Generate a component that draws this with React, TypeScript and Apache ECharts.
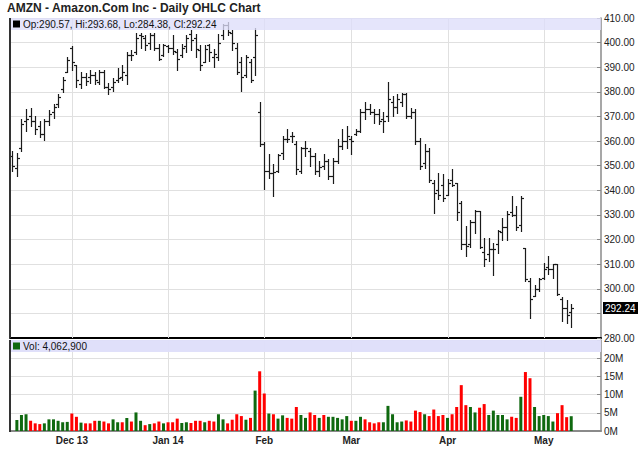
import React, { useEffect, useRef } from 'react';
import * as echarts from 'echarts';

// ---------- DATA ----------
const tradingDays: [string, number[]][] = [
  ['2013-11', [12, 13, 14, 15, 18, 19, 20, 21, 22, 25, 26, 27, 29]],
  ['2013-12', [2, 3, 4, 5, 6, 9, 10, 11, 12, 13, 16, 17, 18, 19, 20, 23, 24, 26, 27, 30, 31]],
  ['2014-01', [2, 3, 6, 7, 8, 9, 10, 13, 14, 15, 16, 17, 21, 22, 23, 24, 27, 28, 29, 30, 31]],
  ['2014-02', [3, 4, 5, 6, 7, 10, 11, 12, 13, 14, 18, 19, 20, 21, 24, 25, 26, 27, 28]],
  ['2014-03', [3, 4, 5, 6, 7, 10, 11, 12, 13, 14, 17, 18, 19, 20, 21, 24, 25, 26, 27, 28, 31]],
  ['2014-04', [1, 2, 3, 4, 7, 8, 9, 10, 11, 14, 15, 16, 17, 21, 22, 23, 24, 25, 28, 29, 30]],
  ['2014-05', [1, 2, 5, 6, 7, 8, 9]],
];
const monthLabels = ['', 'Dec 13', 'Jan 14', 'Feb', 'Mar', 'Apr', 'May'];

const opens = [
  354, 349, 357, 368, 370, 368, 366, 363, 368, 372, 375, 381, 388,
  398, 391, 383, 386, 386, 387, 384, 388, 382, 382, 385, 386, 387, 395, 396, 403, 402, 400, 403, 398, 395,
  398.5, 398, 396, 395, 398.5, 403.5, 402, 397, 392, 399, 394, 394, 403, 407, 404, 398, 392, 387, 392, 394, 372,
  359, 348, 347, 348, 355, 361, 362, 359, 348, 357, 356, 354, 348, 350, 352, 346, 352, 358, 360,
  361, 363, 364, 372, 373, 372, 371, 369, 370, 376, 374, 376, 379, 370, 372, 360, 351, 356, 343, 340, 342,
  338, 344, 343, 335, 318, 318, 327, 331.5, 315, 314, 316, 318, 323, 325, 331, 330, 326, 316.5, 303, 297, 300,
  304.5, 309, 308, 310, 296, 292, 290.57,
];
const highs = [
  356, 355, 369, 373, 373.5, 370, 368, 369, 372.5, 375, 379, 386, 394,
  398.5, 391, 388, 387.5, 389, 388, 389, 389, 383.5, 385.5, 389.5, 391, 396, 397, 404, 404, 403, 404, 404, 399.5, 399.5,
  399, 403, 397.5, 399.5, 403, 405, 403.6, 399, 399, 399.5, 397.5, 403.5, 407.7, 408.5, 405, 400, 394, 394.8, 393.5, 406, 376,
  359.5, 354.7, 350.7, 354.7, 362.2, 364.9, 363.6, 360, 357.5, 360, 357, 355, 352, 354.6, 352.6, 353, 360.7, 364.8, 366,
  362, 365, 373, 375.7, 375, 373, 373, 372, 383.8, 378.4, 379, 379.4, 379.5, 373.6, 373, 361.4, 358.7, 357, 344, 347, 346.5,
  344.5, 348.5, 343, 335.6, 325.4, 328, 332.2, 331.5, 320.7, 320.7, 318.6, 324, 328.8, 331.5, 337.6, 333.5, 337.6, 316.7, 304.4, 301.6, 304.4,
  310.5, 313.2, 310, 310, 296.5, 295.5, 293.68,
];
const lows = [
  348, 346, 356, 364, 366, 363, 361.5, 360.5, 366.5, 369.5, 374, 380, 388,
  389, 382, 381.5, 382.8, 383.5, 383, 383, 381.5, 379, 380.5, 384, 385, 383, 393, 395.5, 398, 397, 397.5, 397, 393, 394.5,
  396, 395.5, 388.7, 394, 396, 397, 394, 389, 392, 392.7, 390, 393, 401.5, 403, 397, 387.3, 380.5, 386, 384, 387, 358,
  340.5, 345, 337.8, 347.3, 352.7, 359.5, 359.5, 346.5, 347, 354, 350, 346.5, 346, 348.5, 344.4, 343, 351, 356.6, 357,
  354.6, 362.5, 363.5, 369, 371, 367.5, 367, 363.5, 368, 370, 371.6, 374.3, 369.5, 369.5, 358.7, 348.5, 349.2, 343.5, 330.8, 336.3, 335.6,
  338, 341.7, 328, 316, 313.2, 317, 322.7, 316.6, 309.1, 311.2, 305.7, 314.6, 320, 320, 329.5, 324, 323.4, 303, 288, 296.9, 299,
  304, 306, 304.5, 297.6, 287, 286, 284.38,
];
const closes = [
  350, 353, 367, 369, 368, 365, 363, 368, 371, 374, 378, 385, 393,
  392, 385, 386, 384.5, 387, 385, 388, 382, 381, 384, 385.5, 388, 395, 395, 402, 402.5, 399, 403, 398, 393.5, 399,
  398, 396.5, 393.5, 398, 402, 401, 397.5, 391, 397.5, 396, 395.5, 400, 407, 404.5, 400, 388, 386, 394, 385, 403, 359,
  348, 347, 347.5, 354.5, 361, 361, 362, 348.5, 357, 357, 354, 348, 349.5, 352, 346, 352, 358, 360, 362,
  360, 364, 372, 373, 372, 371, 368, 368, 377, 374, 377, 379, 370, 372, 360, 350, 356, 344, 339, 338, 337,
  343, 342, 331, 318, 317.5, 327, 331.5, 317, 312, 316, 316, 323.5, 325, 330.5, 330, 325, 337, 304, 296, 300, 304,
  308, 308, 310, 298, 292, 289.5, 292.24,
];
// volume in millions of shares
const volumes: (number | null)[] = [
  null, 3.0, 4.4, 4.6, 2.8, 2.1, 1.9, 2.1, 3.2, 3.2, 2.8, 2.4, 2.5,
  4.8, 3.9, 2.3, 2.1, 2.1, 2.8, 2.8, 2.6, 2.1, 3.2, 2.4, 2.4, 3.6, 2.6, 5.1, 2.8, 1.6, 1.9, 2.1, 2.6, 2.1,
  2.4, 2.4, 3.4, 2.2, 2.4, 2.2, 2.8, 2.8, 2.4, 2.8, 2.6, 4.6, 3.2, 2.1, 3.1, 4.6, 4.1, 3.1, 3.6, 11.1, 16.4,
  10.3, 4.8, 4.6, 3.4, 4.3, 3.6, 3.4, 6.6, 4.4, 3.6, 5.1, 4.4, 3.6, 4.4, 3.9, 3.9, 3.6, 3.2, 4.1,
  2.8, 2.8, 3.9, 3.2, 2.4, 2.1, 2.4, 2.4, 6.9, 4.6, 2.4, 2.6, 2.9, 2.6, 5.6, 5.2, 4.6, 4.1, 5.9, 4.1, 4.4,
  3.6, 4.6, 6.6, 12.6, 7.1, 6.6, 5.1, 6.4, 7.4, 4.4, 5.6, 4.4, 4.4, 3.2, 3.9, 3.6, 9.4, 16.2, 14.5, 6.6, 4.1,
  4.4, 4.1, 2.6, 4.9, 7.1, 3.8, 4.0629,
];
// 1 = green (up) volume bar, 0 = red (down)
const volumeUp = [
  0, 1, 1, 1, 0, 0, 0, 1, 1, 1, 1, 1, 1,
  0, 0, 1, 0, 0, 0, 1, 0, 0, 1, 1, 0, 1, 0, 1, 1, 0, 1, 0, 0, 1,
  0, 0, 0, 1, 1, 0, 0, 0, 1, 0, 0, 1, 1, 0, 0, 0, 0, 1, 0, 1, 0,
  0, 1, 0, 1, 1, 0, 0, 0, 1, 1, 0, 0, 1, 0, 1, 1, 1, 1, 1,
  0, 1, 1, 0, 0, 0, 0, 1, 1, 1, 1, 1, 0, 0, 0, 0, 1, 0, 0, 0, 0,
  1, 0, 0, 0, 0, 1, 1, 0, 0, 1, 1, 1, 1, 1, 0, 0, 1, 0, 0, 1, 1,
  1, 1, 1, 0, 0, 0, 1,
];
const emptySlots = 6;
const priceTicks = { min: 280, max: 410, step: 10 };
const volumeTicks = { min: 0, max: 25, step: 5 };

// ---------- DERIVED ----------
const dates = tradingDays.flatMap(([m, ds]) => ds.map((d) => `${m}-${String(d).padStart(2, '0')}`));
const categories = [...dates, ...Array.from({ length: emptySlots }, (_, i) => `pad-${i}`)];
const monthStarts: { idx: number; label: string }[] = [];
{
  let k = 0;
  tradingDays.forEach(([, ds], mi) => {
    if (monthLabels[mi]) monthStarts.push({ idx: k, label: monthLabels[mi] });
    k += ds.length;
  });
}
const labelByIdx = new Map(monthStarts.map((m) => [m.idx, m.label]));
const last = dates.length - 1;

const FONT = '"Liberation Sans", Arial, sans-serif';
const BAR = '#1a1a1a';
const GRID_LINE = '#e0e0e0';
const GREEN = '#0f690f';
const RED = '#ff0000';

function gridLineSeries(ax: number, yv: number) {
  return {
    type: 'custom',
    xAxisIndex: ax,
    yAxisIndex: ax,
    z: 1,
    silent: true,
    clip: false,
    data: monthStarts.map((m) => [m.idx, yv]),
    renderItem: (params: any, api: any) => {
      const p = api.coord([api.value(0), yv]);
      const x = Math.round(p[0]) + 0.5;
      const cs = params.coordSys;
      return {
        type: 'line',
        shape: { x1: x, y1: cs.y, x2: x, y2: cs.y + cs.height },
        style: { stroke: GRID_LINE, lineWidth: 1 },
      };
    },
  };
}

export default function App() {
  const ref = useRef<HTMLDivElement>(null);
  useEffect(() => {
    if (!ref.current) return;
    const chart = echarts.init(ref.current, undefined, { renderer: 'svg' });
    const ohlcText = `Op:${opens[last].toFixed(2)}, Hi:${highs[last].toFixed(2)}, Lo:${lows[last].toFixed(2)}, Cl:${closes[last].toFixed(2)}`;
    const volText = `Vol: ${Math.round((volumes[last] as number) * 1e6).toLocaleString('en-US')}`;
    const lastClose = closes[last];
    const option: any = {
      animation: false,
      backgroundColor: '#ffffff',
      textStyle: { fontFamily: FONT },
      grid: [
        { left: 10, top: 18, width: 591, height: 320 },
        { left: 10, top: 340, width: 591, height: 91 },
      ],
      xAxis: [
        {
          type: 'category', gridIndex: 0, data: categories, boundaryGap: true,
          axisLine: { show: true, lineStyle: { color: '#000', width: 2 } },
          axisTick: { show: false }, axisLabel: { show: false }, splitLine: { show: false },
        },
        {
          type: 'category', gridIndex: 1, data: categories, boundaryGap: true,
          axisLine: { show: true, lineStyle: { color: '#8a8a8a', width: 2 } },
          axisTick: { show: false }, splitLine: { show: false },
          axisLabel: {
            interval: (i: number) => labelByIdx.has(i),
            formatter: (_v: string, i: number) => labelByIdx.get(i) ?? '',
            fontWeight: 'bold', fontSize: 10, color: '#222', margin: 4, fontFamily: FONT,
          },
        },
      ],
      yAxis: [
        {
          type: 'value', gridIndex: 0, position: 'right',
          min: priceTicks.min, max: priceTicks.max, interval: priceTicks.step,
          axisLine: { show: true, lineStyle: { color: '#8a8a8a', width: 1.5 } },
          axisTick: { show: true, inside: true, length: 4, lineStyle: { color: '#8a8a8a' } },
          axisLabel: {
            // the last-price marker covers the nearest tick label
            formatter: (v: number) => (Math.abs(v - lastClose) < 5 ? '' : v.toFixed(2)),
            fontSize: 10, color: '#222', margin: 3, fontFamily: FONT,
          },
          splitLine: { show: true, lineStyle: { color: GRID_LINE } },
        },
        {
          type: 'value', gridIndex: 1, position: 'right',
          min: volumeTicks.min, max: volumeTicks.max, interval: volumeTicks.step,
          axisLine: { show: true, lineStyle: { color: '#8a8a8a', width: 1.5 } },
          axisTick: { show: true, inside: true, length: 4, lineStyle: { color: '#8a8a8a' } },
          axisLabel: {
            formatter: (v: number) => (v >= volumeTicks.max ? '' : `${v}M`),
            fontSize: 10, color: '#222', margin: 3, fontFamily: FONT,
          },
          splitLine: { show: true, lineStyle: { color: GRID_LINE } },
        },
      ],
      series: [
        gridLineSeries(0, 300),
        gridLineSeries(1, 0),
        {
          type: 'custom',
          xAxisIndex: 0, yAxisIndex: 0, z: 3, clip: false,
          data: opens.map((o, i) => [i, o, highs[i], lows[i], closes[i]]),
          encode: { x: 0, y: [1, 2, 3, 4] },
          renderItem: (_params: any, api: any) => {
            const idx = api.value(0);
            const pO = api.coord([idx, api.value(1)]);
            const pH = api.coord([idx, api.value(2)]);
            const pL = api.coord([idx, api.value(3)]);
            const pC = api.coord([idx, api.value(4)]);
            const x = Math.round(pH[0]) + 0.5;
            const yO = Math.round(pO[1]) + 0.5;
            const yC = Math.round(pC[1]) + 0.5;
            const st = { stroke: BAR, lineWidth: 1.2 };
            return {
              type: 'group',
              children: [
                { type: 'line', shape: { x1: x, y1: Math.round(pH[1]), x2: x, y2: Math.round(pL[1]) + 1 }, style: st },
                { type: 'line', shape: { x1: x - 2.5, y1: yO, x2: x, y2: yO }, style: st },
                { type: 'line', shape: { x1: x, y1: yC, x2: x + 2.5, y2: yC }, style: st },
              ],
            };
          },
        },
        {
          type: 'custom',
          xAxisIndex: 0, yAxisIndex: 0, z: 10, clip: false, silent: true,
          data: [[last, lastClose]],
          renderItem: (params: any, api: any) => {
            const p = api.coord([api.value(0), api.value(1)]);
            const cs = params.coordSys;
            const x = cs.x + cs.width + 2;
            const y = Math.round(p[1]);
            return {
              type: 'group',
              children: [
                { type: 'rect', shape: { x, y: y - 6, width: 35, height: 12 }, style: { fill: '#000' } },
                {
                  type: 'text',
                  style: {
                    text: (api.value(1) as number).toFixed(2), x: x + 2, y: y + 0.5, fill: '#fff',
                    fontSize: 10, fontFamily: FONT, verticalAlign: 'middle', align: 'left',
                  },
                },
              ],
            };
          },
        },
        {
          type: 'bar',
          xAxisIndex: 1, yAxisIndex: 1, z: 3, barWidth: 3,
          data: volumes.map((v, i) => ({ value: v, itemStyle: { color: volumeUp[i] ? GREEN : RED } })),
        },
      ],
      graphic: [
        {
          type: 'text', left: 7, top: 2, z: 100,
          style: { text: 'AMZN - Amazon.Com Inc - Daily OHLC Chart', fontSize: 12, fontWeight: 'bold', fontFamily: FONT, fill: '#222' },
        },
        { type: 'rect', shape: { x: 10, y: 18, width: 591, height: 12 }, style: { fill: 'rgba(222,222,250,0.78)' }, z: 90 },
        { type: 'rect', shape: { x: 10, y: 340, width: 591, height: 12 }, style: { fill: 'rgba(222,222,250,0.95)' }, z: 90 },
        { type: 'rect', shape: { x: 13, y: 20.5, width: 7, height: 7 }, style: { fill: '#000' }, z: 100 },
        {
          type: 'text', x: 23, y: 24.5, z: 100,
          style: { text: ohlcText, fontSize: 10, fontFamily: FONT, fill: '#111', verticalAlign: 'middle' },
        },
        { type: 'rect', shape: { x: 13, y: 342.5, width: 7, height: 7 }, style: { fill: GREEN }, z: 100 },
        {
          type: 'text', x: 23, y: 346.5, z: 100,
          style: { text: volText, fontSize: 10, fontFamily: FONT, fill: '#111', verticalAlign: 'middle' },
        },
        { type: 'line', shape: { x1: 10, y1: 18, x2: 10, y2: 338 }, style: { stroke: '#333', lineWidth: 2 }, z: 95 },
        { type: 'line', shape: { x1: 10, y1: 340, x2: 10, y2: 432 }, style: { stroke: '#333', lineWidth: 2 }, z: 95 },
      ],
    };
    chart.setOption(option);
    return () => chart.dispose();
  }, []);
  return <div ref={ref} style={{ position: 'fixed', left: 0, top: 0, width: 640, height: 468 }} />;
}
